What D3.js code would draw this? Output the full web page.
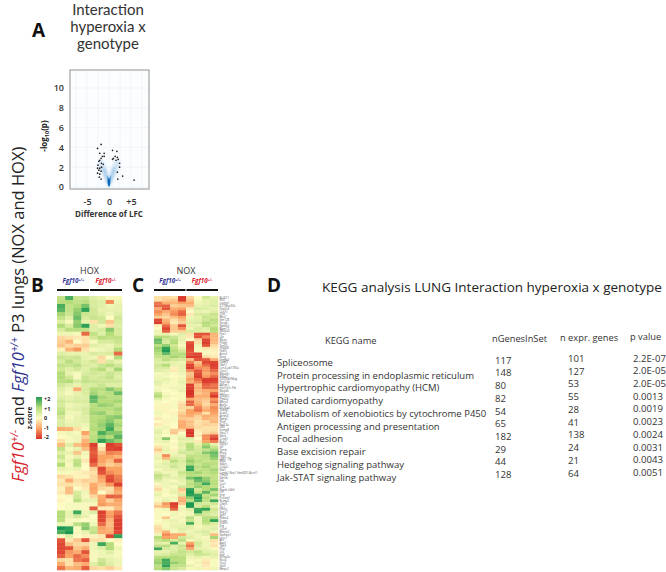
<!DOCTYPE html>
<html><head><meta charset="utf-8">
<style>html,body{margin:0;padding:0;background:#fff}svg{display:block}text{font-family:"Open Sans",sans-serif;fill:#222}</style>
<script src="https://cdn.jsdelivr.net/npm/d3@7"></script></head><body><svg id="c" width="666" height="572"></svg>
<script>
const genotypes=["Fgf10+/+","Fgf10+/-"];
const legendTicks=[2,1,0,-1,-2];
const volcanoXTicks=[-5,0,5];
const volcanoYTicks=[0,2,4,6,8,10];
const volcanoPoints=[[-2.6,3.9],[-1.8,4.3],[-2.1,3.4],[-1.1,3.4],[-1.5,3.1],[-1.1,3.1],[-1.8,2.9],[-2.1,2.7],[-2.3,2.6],[-1.7,2.4],[-1.3,2.3],[-2.5,2.2],[-1.7,2.0],[-2.1,1.9],[-2.6,1.9],[-2.3,1.7],[-1.8,1.6],[-2.6,1.4],[-2.1,1.3],[-2.2,1.0],[-1.8,.8],[.8,3.7],[1.8,3.6],[1.4,3.1],[1,2.9],[1.9,3.0],[2.1,2.8],[.8,2.8],[1.6,2.7],[2.4,2.4],[2.4,2],[1.9,1.5],[3.1,1.1],[2,.8],[5.7,.7]];
const densityOuter=[[0,.05],[-.9,.7],[-1.9,1.6],[-2.5,2.4],[-1.7,2.8],[-.9,2.2],[-.3,1.2],[0,.9],[.3,1.2],[.9,2.2],[1.7,2.9],[2.5,2.4],[1.9,1.6],[.9,.7]];
const densityMid=[[0,.05],[-.6,.6],[-1.1,1.3],[-1.4,2.0],[-.8,1.9],[-.25,1.0],[0,.8],[.25,1.0],[.8,1.9],[1.4,2.0],[1.1,1.3],[.6,.6]];
const densityInner=[[0,0],[-.3,.45],[-.45,1.2],[-.12,.9],[0,1.0],[.12,.9],[.45,1.2],[.3,.45]];
const densityCore=[[0,.05],[-.25,.3],[-.22,.7],[0,.85],[.22,.7],[.25,.3]];
const keggHeader=["KEGG name","nGenesInSet","n expr. genes","p value"];
const keggNames=["Spliceosome","Protein processing in endoplasmic reticulum","Hypertrophic cardiomyopathy (HCM)","Dilated cardiomyopathy","Metabolism of xenobiotics by cytochrome P450","Antigen processing and presentation","Focal adhesion","Base excision repair","Hedgehog signaling pathway","Jak-STAT signaling pathway"];
const nGenesInSet=[117,148,80,82,54,65,182,29,44,128];
const nExprGenes=[101,127,53,55,28,41,138,24,21,64];
const pValues=["2.2E-07","2.0E-05","2.0E-05","0.0013","0.0019","0.0023","0.0024","0.0031","0.0043","0.0051"];
const hoxZ=[[.8,1.7,.7,.7,.4,.3,.1,.1],[.9,1.0,.8,.9,.5,.4,-1.2,.2],[1.7,.8,1.0,1.4,.5,.4,.2,.3],[1.6,.8,1.2,1.9,.6,.3,.3,.3],[1.1,.7,1.3,.7,.6,.4,.2,.4],[.8,.4,1.5,.5,.7,.6,0,.6],[.4,.1,1.2,.3,-.3,.6,-.6,.5],[1.0,.5,1.3,1.9,.4,.2,-.3,.4],[.5,.9,.9,.8,.4,.5,1.3,.5],[.2,.2,.1,-1.5,.8,.4,1.0,.5],[-.4,-.3,-.2,-.3,.6,.9,.8,.8],[-.5,-.8,0,-.3,.1,.5,.5,.7],[-.6,-.4,-.5,-.5,.4,.3,.2,.5],[-.1,-.8,-1.1,-.3,.1,.2,.3,1.0],[.4,.3,.3,.3,.5,.4,.5,-1.5],[.7,.6,.7,.3,.2,-.4,0,1.0],[.5,.9,.6,.4,.6,-.3,.5,.3],[.8,.7,.9,.5,.4,.7,.9,.6],[.6,.4,.6,.4,.7,1.0,.4,1.1],[1.0,.3,.1,.5,.6,.5,.7,.5],[1.0,.6,.1,.7,.5,.6,.8,.4],[.9,1.0,.5,.8,.7,.6,.6,.6],[.6,.4,.3,.5,.5,.7,.4,.4],[.4,.2,-.9,.5,1.0,.9,1.3,1.0],[.3,.1,.3,.5,1.1,.8,.9,1.5],[.4,.3,.4,.4,1.6,1.1,.9,.9],[.6,.4,.5,.5,1.5,1.0,1.0,1.1],[.5,.2,.3,.4,.9,1.2,1.1,.8],[.7,.3,.4,.5,1.0,.9,.9,1.1],[.9,.2,.2,.5,1.1,1.2,.8,1.0],[.6,.1,.3,.4,.9,1.0,1.2,1.3],[.4,.2,.3,.4,1.0,1.1,1.3,.9],[.5,.3,.3,.2,.9,1.2,1.6,1.1],[-.9,-.8,-.3,.1,1.0,1.1,1.8,.9],[.1,.2,.1,-1.0,.8,1.7,1.3,1.3],[0,.1,.2,-.5,.9,1.2,1.0,1.6],[-.3,.1,.2,-.8,1.0,1.9,1.5,1.2],[-.7,.4,-.7,-1.0,-1.9,0,-1.9,-1.7],[.8,.1,.3,-.7,-1.7,-.3,-1.8,-1.9],[.4,.3,-.6,.2,-1.6,-.7,-1.3,-1.2],[.7,.1,.3,.1,-1.7,-1.0,-1.0,-.8],[.4,.2,.8,-.2,-1.8,-1.0,-.7,-1.6],[1.0,.1,.9,0,-1.5,-.8,-.5,-.7],[.3,.2,.3,0,-.5,-1.8,-1.0,-1.0],[.1,.1,-.1,-.2,-.3,-1.7,-1.2,-1.0],[-.4,-.3,-.1,-.1,-.4,-1.1,-1.7,-1.3],[-.2,-.9,-.3,-.5,-.4,-.9,-1.8,-1.4],[-.3,-.3,-.2,-.3,-.9,-.6,-1.1,-1.9],[-.1,-.7,0,-.2,-1.0,-.4,-.3,-1.1],[-.2,-.7,.5,.2,-.9,0,-.4,-.9],[0,.1,.6,.1,-.4,-.9,-1.6,-1.5],[-.1,0,.9,.3,.3,-1.0,-.5,-1.0],[0,.1,.1,.1,.1,-1.1,-.9,-.9],[0,.1,.1,.1,-1.6,-.2,-.2,-.7],[1.0,.3,1.8,.2,.4,-1.9,-1.0,-1.4],[1.0,.3,.6,.3,0,-1.8,-1.1,-1.7],[.9,.1,.1,0,.1,-1.8,-.8,-1.9],[.2,.2,.9,1.2,.2,-1.5,-.7,-1.9],[2,1.9,.1,1.3,.7,-1.0,-.8,-1.9],[1.7,2,.1,.3,.8,-.9,-.9,-1.8],[0,.4,0,-.1,-.1,-.2,-1.8,1.9],[-1.7,-.2,-.6,-1.7,-.3,-.3,0,-.1],[-1.8,-.7,-.4,-.4,.2,1.8,1.0,0],[-1.8,-1.7,-.6,-.9,.2,.4,1.0,.2],[-1.8,-1.1,-.9,-1.7,.1,.2,.4,.1],[-1.6,-1.0,-1.5,-1.2,.1,.2,.2,.1],[-.4,-.3,-1.4,-1.6,.1,.6,.3,.2],[-.9,-.3,-.7,-.9,.4,.8,.4,.2],[-1.4,-.8,-.9,-1.6,-.4,-.3,-.5,-.2]];
const noxZ=[[-.3,-.4,-.3,-1.9,-.4,0,.6,.3],[-.3,-.5,-.6,-1.9,-.6,.1,.3,.4],[-1.4,-.9,-.8,-1.0,-.9,.2,.3,.4],[-1.5,-1.6,-.5,-.6,-.7,.3,.4,.5],[-.9,-1.7,-.9,-1.0,-.2,.5,.4,.3],[-1.2,-.9,-1.1,-1.5,0,.3,.2,.4],[-1.0,-.6,-1.2,-1.6,-.2,.5,.5,.7],[-.5,-.4,-.7,-1.0,.2,.3,.7,.6],[-1.8,-.8,-.3,-.7,.3,.4,.6,.9],[-1.9,-1.0,-.2,-.5,.4,.5,1.0,.8],[-.1,-1.5,-.6,-1.7,.3,.3,.9,.6],[0,-1.8,-.6,-1.2,.2,.5,.4,1.0],[.2,-1.6,-.5,-.5,.5,.4,.3,.9],[.2,.3,.1,.4,-.3,-1.7,-1.7,-.8],[1.0,.9,.7,.3,-.2,-1.7,-1.2,-.8],[1.5,.6,.9,.3,0,-.4,-1.8,-.8],[1.4,.5,1.0,.2,-1.7,-.3,-1.9,-.7],[.9,1.2,.6,.1,-1.8,.2,-1.7,-.4],[1.2,1.9,.8,.3,-1.8,.1,-.3,-.2],[1.1,2,1.0,.6,-1.7,.1,.1,-.1],[.9,1.5,.9,1.0,-1.7,-1.8,.1,-.1],[.8,.8,1.1,.9,-1.9,-1.9,-.4,-.2],[.5,.9,.6,.5,-.7,-1.7,-1.6,-.9],[.4,.4,.3,.2,-1.3,-.6,-1.8,-1.8],[.6,1.0,.3,.3,-1.8,-.9,-1.5,-1.9],[.5,.5,-.1,.3,-1.9,-1.2,-1.1,-1.8],[.4,.3,-.2,.3,-1.2,-1.7,-1.1,-1.5],[.1,.2,.1,.2,-.6,-1.8,-.9,-1.2],[.2,.1,0,.1,-.7,-1.9,-1.1,-1.5],[.2,.3,.1,.2,-1.0,-1.5,-1.9,-1.9],[.4,.2,.1,.3,-.8,-1.2,-1.9,-1.8],[.3,.1,.1,.2,-1.9,-.7,-1.6,-1.4],[.1,.1,.2,.2,-1.9,-.9,-1.5,-1.5],[.2,0,.1,.3,-2,-.7,-.9,-1.0],[.7,.1,0,.1,-2,-.6,-.8,-1.6],[1.0,.2,.1,.1,-1.9,-.9,-.9,-1.9],[.4,.1,0,.1,-.9,-.7,-.6,-1.1],[.1,0,.1,-.2,-1.6,-.8,-.5,-1.4],[.1,-.1,.1,-.4,-1.5,-1.0,-.4,-.9],[-.1,.1,.1,-.4,-.4,-1.3,-.7,-1.2],[.1,-.1,0,-.3,-1.0,-1.4,-.9,-1.1],[.2,.1,-.1,-.5,-1.0,-.9,-.3,-1.0],[.1,0,.1,-.7,-.9,-.5,-.9,-.8],[-.2,.1,.1,-.6,-.5,-.4,-.8,-.7],[0,-.1,.1,-.9,-.7,-.3,-.4,-.8],[-.2,.1,0,-.9,-.6,-.3,-.5,-.4],[.1,.2,0,-.9,-.7,-.4,-.3,-.3],[.3,.1,-.5,-.4,-1.9,-.2,-.3,-.3],[.4,.1,-.6,0,-2,-.1,-.4,-.5],[.2,0,.1,.2,-1.9,-.2,-1.2,-1.6],[.3,1.3,.1,.4,.4,0,-1.2,-1.9],[.2,.3,0,.3,.3,-.2,-1.0,-1.4],[.1,.1,.1,.4,.9,.3,1.0,.3],[-.3,.2,0,.3,1.0,.5,1.3,.7],[-.6,.3,-.1,.4,.9,.6,.8,1.1],[-.2,.2,.2,.6,.5,.7,1.3,1.5],[.2,-1.2,.3,.3,.8,.8,.9,1.4],[.3,-.7,.5,.4,1.0,.7,.8,1.2],[.1,.3,.9,.5,1.2,.9,.7,.8],[.2,.4,.5,.4,1.0,.7,1.0,.9],[.3,.3,.7,.4,1.8,.9,1.1,.8],[.1,.3,.3,.4,1.9,.8,.9,1.1],[.4,.2,.2,.7,1.0,1.1,.8,1.0],[.8,.5,.2,.5,.9,.8,.7,.8],[.7,.3,.3,.4,1.4,1.7,1.2,.8],[.4,.2,.1,.3,.8,1.5,1.3,.9],[.1,.2,.3,.2,.9,1.1,1.8,1.0],[-.2,.2,.1,.6,.8,1.2,1.0,.8],[-.4,.1,.2,-.6,1.9,.6,1.0,1.4],[.2,.1,.3,-.3,2,.8,1.6,.7],[.3,0,.1,.5,1.9,1.8,.8,1.1],[.1,.2,.2,-.8,1.2,2,1.0,.5],[.1,.3,.1,-.9,.9,1.8,.8,1.8],[-.3,-1.1,-1.9,-.6,2,.6,.5,.6],[-.6,-.9,-1.8,.1,2,.5,.9,.3],[.1,.2,-1.5,.2,.4,1.8,1.9,.6],[.1,.1,.2,.1,.2,1.9,.7,.5],[.1,0,.2,.1,.2,.8,.6,.4],[.1,-.6,.1,.2,.9,.2,.9,1.0],[0,.2,.3,.1,.7,.2,1.0,1.9],[.1,.1,.2,.2,1.7,.2,.8,.5],[-.3,.1,.3,.3,.4,.1,.3,.3],[-.4,.2,.2,.4,.3,.2,.3,.4],[-.3,-.8,.1,.3,.2,.4,.5,.2],[.2,-1.2,-.9,-.9,.3,.2,.4,-.7],[1.0,-1.0,-.9,.6,.4,.2,.1,1.1],[.7,1.0,.5,.9,.1,.3,.2,-.3],[.4,.3,1.7,.3,-1.0,.6,.2,-.2],[.8,.9,.4,.7,-1.4,.5,.2,-.3],[1.8,.5,.4,.6,-.9,.3,.3,.1],[.3,.3,.5,.8,.6,.8,.4,.3],[.4,.5,.7,.7,.4,.7,.6,.4],[.9,.9,1.0,.9,.2,.3,.2,.3],[1.1,1.8,.9,.9,.1,.1,-.2,.1],[1.2,1.7,1.2,1.0,0,.2,-.3,.1],[.9,1.9,.8,.8,.3,.1,-.2,.1],[1.0,1.3,.7,.5,.1,.2,-.1,.2]];
const noxGenes=["Bcl2l11","Ifit3","Capns1","D17Wsu92e","Ppp2r4","Cox7c","Crat","Mtx1","Gm128","Snrpb","Ndufs2","Rbm17","Nkiras2","Ppa1","Lbr","Mapt","Prkg2","Tnnt2","Hspa4l","Fbxl5","Actn2","Sncg","Hmgb2","Fabp3","Dbn1","Lrrc4 ab1700a","Chac1","Mgat4c","Pdzd2","Tsc22d3 Mag","Ppp1cb","Ablim1","Hist1h1c Fbl","Mapk6","Ctsl","Zfp36l1","Ptp4a1","Mkrn2","Atp5e","Slc25a4","Tubb5","Sept2","Arrdc3","Ndrg1","Pkm","Rpl13a","Cd9","Vamp8","Gna11","Sdc4","Ccnd1","Rab7","Dusp1","Id1","Txnip","Rhoa","Itgb1","Cd81 Tfg","Mgp","Sparc","Col4a1","Nid1","Lamb1 Nrp1 Gm4631/Acvrl1","Timp3","Ednrb","Kdr","Cav1","Tek","Ptprb Cdh5","Flt1","Eng","Pecam1","Ramp2","Cldn5","Tie1","Emcn","Sox17","Egfl7","Robo4","Esam","Icam2","Erg","Calcrl","Mmrn2","Gpihbp1","Lyve1","Ace","Aqp1","Tbx3","Pltp","Clu","Vwf","Sema3c","Nos3","Hey1","Gja4","Bmpr2"];
const keggRowIdx=d3.range(keggNames.length);

const svg=d3.select("#c");
const defs=svg.append("defs");
defs.append("filter").attr("id","soft").attr("x","-5%").attr("y","-5%").attr("width","110%").attr("height","110%").append("feGaussianBlur").attr("stdDeviation",0.55);
defs.append("filter").attr("id","cloud").append("feGaussianBlur").attr("stdDeviation",1.5);
defs.append("filter").attr("id","core").append("feGaussianBlur").attr("stdDeviation",.7);
const color=d3.scaleLinear().domain([-2,-1,0,1,2]).range(["#d73027","#fba364","#fefbc4","#b4dc78","#1f9a52"]).clamp(true);
const T=(x,y,s,o={})=>{const t=svg.append("text").attr("x",x).attr("y",y).attr("font-size",o.size||10).attr("text-anchor",o.anchor||"start").attr("font-weight",o.weight||400).attr("font-style",o.style||"normal").text(s);if(o.fill)t.style("fill",o.fill);if(o.font)t.style("font-family",o.font);return t;};

// panel letters
[["A",32,37],["B",31,292],["C",132,292],["D",267,292]].forEach(d=>T(d[1],d[2],d[0],{size:19,weight:700,fill:"#111"}));

// side title
const side=svg.append("text").attr("transform","translate(24,482) rotate(-90)").attr("font-size",16.5);
const sp=(txt,o={})=>{const s=side.append("tspan").text(txt);if(o.fill)s.style("fill",o.fill);if(o.it)s.attr("font-style","italic");if(o.dy)s.attr("dy",o.dy);if(o.size)s.attr("font-size",o.size);return s;};
sp("Fgf10",{fill:"#d6202c",it:1});sp("+/-",{fill:"#d6202c",it:1,dy:-6,size:10});sp(" and ",{dy:6});
sp("Fgf10",{fill:"#2e3192",it:1});sp("+/+",{fill:"#2e3192",it:1,dy:-6,size:10});sp(" P3 lungs (NOX and HOX)",{dy:6});

// panel A
["Interaction","hyperoxia x","genotype"].forEach((s,i)=>T(108,[15,32,49][i],s,{size:15,anchor:"middle",fill:"#333",font:"Lato"}));
const vx=d3.scaleLinear().domain([-5,5]).range([87,131]);
const vy=d3.scaleLinear().domain([0,10]).range([187,88]);
const bx=[70,149],by=[70,189];
svg.append("rect").attr("x",bx[0]).attr("y",by[0]).attr("width",bx[1]-bx[0]).attr("height",by[1]-by[0]).attr("fill","#fbfdff");
const gridG=svg.append("g").attr("stroke","#edf4fa").attr("stroke-width",.8);
d3.range(-7.5,9,2.5).forEach(v=>gridG.append("line").attr("x1",vx(v)).attr("x2",vx(v)).attr("y1",by[0]).attr("y2",by[1]));
d3.range(0,12,2).forEach(v=>gridG.append("line").attr("y1",vy(v)).attr("y2",vy(v)).attr("x1",bx[0]).attr("x2",bx[1]));
const poly=d3.line().x(d=>vx(d[0])).y(d=>vy(d[1])).curve(d3.curveCatmullRomClosed);
svg.append("g").attr("filter","url(#cloud)").selectAll("path").data([[densityOuter,"#d3e6f5"],[densityMid,"#9cc6e8"]]).join("path").attr("d",d=>poly(d[0])).attr("fill",d=>d[1]);
svg.append("g").attr("filter","url(#core)").selectAll("path").data([[densityInner,"#4f9ad6"],[densityCore,"#0f66b3"]]).join("path").attr("d",d=>poly(d[0])).attr("fill",d=>d[1]);
svg.append("rect").attr("x",bx[0]).attr("y",by[0]).attr("width",bx[1]-bx[0]).attr("height",by[1]-by[0]).attr("fill","none").attr("stroke","#b0b0b0").attr("stroke-width",1.4);
svg.append("g").selectAll("circle").data(volcanoPoints).join("circle").attr("cx",d=>vx(d[0])).attr("cy",d=>vy(d[1])).attr("r",.85).attr("fill","#222");
const ax=svg.append("g").attr("transform","translate(0,198)").call(d3.axisBottom(vx).tickValues(volcanoXTicks).tickSize(0).tickFormat(d=>d>0?"+"+d:d===0?"0":"-"+(-d)));
ax.select(".domain").remove();ax.selectAll("text").attr("font-size",9).attr("font-weight",600).attr("dy",".45em").style("fill","#333");
const ay=svg.append("g").attr("transform","translate(67,0)").call(d3.axisLeft(vy).tickValues(volcanoYTicks).tickSize(0));
ay.select(".domain").remove();ay.selectAll("text").attr("font-size",9).attr("font-weight",600).style("fill","#333");
T(109,217,"Difference of LFC",{size:8,weight:700,anchor:"middle",fill:"#333"});
const yl=svg.append("text").attr("transform","translate(47,136) rotate(-90)").attr("text-anchor","middle").attr("font-size",8).attr("font-weight",700);
yl.append("tspan").text("-log");yl.append("tspan").text("10").attr("font-size",5.5).attr("dy",2);yl.append("tspan").text("(p)").attr("dy",-2);

// heatmaps
function heat(rows,x0,x1,y0,y1){
 const xs=d3.scaleBand().domain(d3.range(8)).range([x0,x1]);
 const ys=d3.scaleBand().domain(d3.range(rows.length)).range([y0,y1]);
 svg.append("g").attr("filter","url(#soft)").selectAll("g").data(rows).join("g").attr("transform",(d,i)=>`translate(0,${ys(i)})`)
  .selectAll("rect").data(d=>d).join("rect").attr("x",(d,j)=>xs(j)).attr("width",xs.bandwidth()+.3).attr("height",ys.bandwidth()+.3).attr("fill",d=>color(d));
 return ys;
}
function head(name,x0,x1){
 const m=(x0+x1)/2;
 T(m,274,name,{size:9,anchor:"middle",fill:"#333"});
 svg.append("rect").attr("x",x0).attr("y",289).attr("width",m-x0-.5).attr("height",2).attr("fill","#111");
 svg.append("rect").attr("x",m+.5).attr("y",289).attr("width",x1-m-.5).attr("height",2).attr("fill","#111");
 genotypes.forEach((g,i)=>{
  const t=svg.append("text").attr("x",i?(m+x1)/2:(x0+m)/2).attr("y",283).attr("text-anchor","middle").attr("font-size",6.3).attr("font-weight",700).attr("font-style","italic");
  const c=i?"#d6202c":"#2e3192";
  t.append("tspan").text(g.slice(0,5)).style("fill",c);
  t.append("tspan").text(g.slice(5)).attr("font-size",3.5).attr("dy",-2).style("fill",c);
 });
}
head("HOX",57,122);head("NOX",154,218);
heat(hoxZ,57,122,296,570);
const ysN=heat(noxZ,154,218,296,570);
svg.append("g").selectAll("text").data(noxGenes).join("text").attr("x",219.5).attr("y",(d,i)=>ysN(i)+2.5).attr("font-size",2.9).style("fill","#555").text(d=>d);

// legend
const lg=defs.append("linearGradient").attr("id","lg").attr("x1",0).attr("x2",0).attr("y1",0).attr("y2",1);
legendTicks.forEach((v,i)=>lg.append("stop").attr("offset",i/4).attr("stop-color",color(v)));
const ls=d3.scaleLinear().domain([2,-2]).range([399,437]);
svg.append("rect").attr("x",36).attr("y",397).attr("width",6).attr("height",42).attr("fill","url(#lg)");
svg.append("g").selectAll("text").data(legendTicks).join("text").attr("x",44).attr("y",d=>ls(d)+2).attr("font-size",5.5).attr("font-weight",700).text(d=>d>0?"+"+d:d);
svg.append("text").attr("transform","translate(32,418) rotate(-90)").attr("text-anchor","middle").attr("font-size",6.5).attr("font-weight",700).text("z-score");

// panel D
T(322,292,"KEGG analysis LUNG Interaction hyperoxia x genotype",{size:13.5,fill:"#222"});
[[325,344],[492,342],[560,341],[630,340]].forEach((p,i)=>T(p[0],p[1],keggHeader[i],{size:9.3,fill:"#333"}));
const rowName=d3.scaleLinear().domain([0,9]).range([366,480.5]);
const rowN1=d3.scaleLinear().domain([0,9]).range([363.8,478]);
const rowN2=d3.scaleLinear().domain([0,9]).range([362,476.5]);
const rowP=d3.scaleLinear().domain([0,9]).range([361.5,476]);
keggRowIdx.forEach(i=>{
 T(277,rowName(i),keggNames[i],{size:9.5,fill:"#333"});
 T(495,rowN1(i),nGenesInSet[i],{size:9.6,fill:"#333"});
 T(568,rowN2(i),nExprGenes[i],{size:9.6,fill:"#333"});
 T(633,rowP(i),pValues[i],{size:9.6,fill:"#333"});
});
</script></body></html>
